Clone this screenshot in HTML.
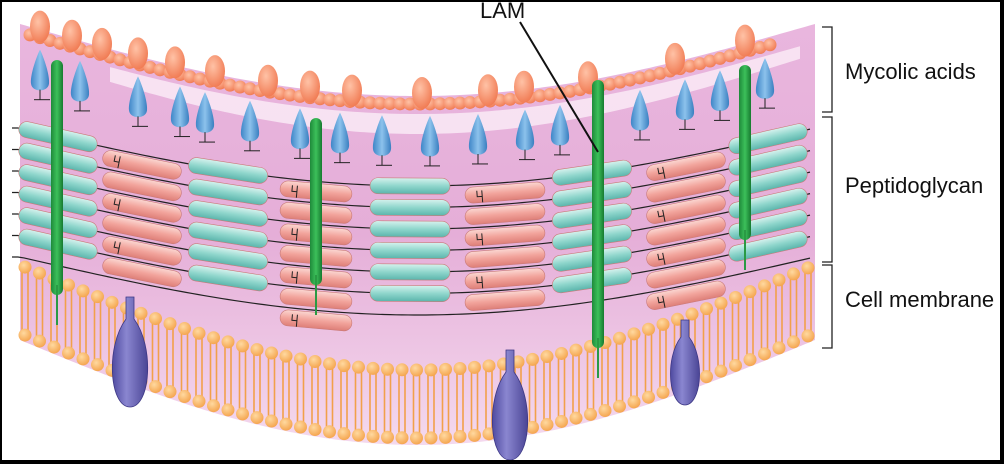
<!DOCTYPE html>
<html><head><meta charset="utf-8"><style>
html,body{margin:0;padding:0;background:#fff}
#w{position:relative;width:1004px;height:464px;overflow:hidden;box-sizing:border-box;border:2px solid #000;border-bottom-width:4px;border-right-width:4px;background:#fff}
svg{position:absolute;left:-2px;top:-2px}
.lbl{position:absolute;font-family:"Liberation Sans",sans-serif;font-size:22px;color:#111;white-space:nowrap}
</style></head><body><div id="w">
<svg id="s" width="1004" height="464" viewBox="0 0 1004 464">
<defs>
<linearGradient id="band" x1="0" y1="0" x2="0" y2="1">
<stop offset="0" stop-color="#e9b6de"/><stop offset="0.5" stop-color="#e5aed8"/><stop offset="1" stop-color="#f4d9ee"/>
</linearGradient>
<linearGradient id="teal" x1="0" y1="0" x2="0" y2="1"><stop offset="0" stop-color="#d6f2ee"/><stop offset="0.5" stop-color="#8fd6cc"/><stop offset="1" stop-color="#5bb5ac"/></linearGradient>
<linearGradient id="pink" x1="0" y1="0" x2="0" y2="1"><stop offset="0" stop-color="#fbd7d2"/><stop offset="0.5" stop-color="#f2a49c"/><stop offset="1" stop-color="#de7f78"/></linearGradient>
<linearGradient id="grn" x1="0" y1="0" x2="1" y2="0"><stop offset="0" stop-color="#1e8a3a"/><stop offset="0.5" stop-color="#3cc05a"/><stop offset="1" stop-color="#177a30"/></linearGradient>
<linearGradient id="pur" x1="0" y1="0" x2="1" y2="0"><stop offset="0" stop-color="#4f4aa0"/><stop offset="0.4" stop-color="#8a86d0"/><stop offset="1" stop-color="#4a4595"/></linearGradient>
<linearGradient id="blu" x1="0" y1="0" x2="1" y2="0"><stop offset="0" stop-color="#3f86c8"/><stop offset="0.5" stop-color="#8cc2ec"/><stop offset="1" stop-color="#3a7fc0"/></linearGradient>
<radialGradient id="org" cx="0.4" cy="0.35" r="0.7"><stop offset="0" stop-color="#ffc2a6"/><stop offset="1" stop-color="#f07850"/></radialGradient>
<radialGradient id="lip" cx="0.4" cy="0.35" r="0.7"><stop offset="0" stop-color="#ffd9a0"/><stop offset="1" stop-color="#f4a24a"/></radialGradient>
</defs>
<g id="g"></g>
</svg>
<div class="lbl" style="left:478px;top:-4px">LAM</div>
<div class="lbl" style="left:843px;top:57px">Mycolic acids</div>
<div class="lbl" style="left:843px;top:171px">Peptidoglycan</div>
<div class="lbl" style="left:843px;top:285px">Cell membrane</div>
</div>
<script>
(function(){
var g=document.getElementById('g'),h='';
function s(x){var v=Math.sin(Math.PI*(x-20)/795);return v<0?0:v;}
function ty(x){return 32+72*s(x);}
function mt(x){return 265+105*s(x);}
function pg(q){return 128+58*s(q);}
function ang(f,x){return Math.atan2(f(x+5)-f(x-5),10)*180/Math.PI;}
var p='M20,'+ty(20),x;
for(x=20;x<=815;x+=5)p+=' L'+x+','+(ty(x)-8);
for(x=815;x>=20;x-=5)p+=' L'+x+','+(mt(x)+75);
h+='<path d="'+p+'Z" fill="url(#band)"/>';
var p2='M110,'+(ty(110)+10);
for(x=110;x<=800;x+=5)p2+=' L'+x+','+(ty(x)+10);
for(x=800;x>=110;x-=5)p2+=' L'+x+','+(ty(x)+22+8*s(x));
h+='<path d="'+p2+'Z" fill="#fbeef8" opacity="0.8"/>';
for(x=25;x<=815;x+=14.5){var y1=mt(x),y2=y1+68;
 h+='<path d="M'+(x-3)+','+(y1+5)+' L'+(x-3)+','+(y2-5)+' M'+(x+3)+','+(y1+5)+' L'+(x+3)+','+(y2-5)+'" stroke="#f2a04a" stroke-width="1.6" fill="none"/>';
 h+='<circle cx="'+x+'" cy="'+y1+'" r="6.5" fill="url(#lip)"/><circle cx="'+x+'" cy="'+y2+'" r="6.5" fill="url(#lip)"/>';}
var cols=[[58,'teal'],[142,'pink'],[228,'teal'],[316,'pink'],[410,'teal'],[505,'pink'],[592,'teal'],[686,'pink'],[768,'teal']];
for(var r=0;r<7;r++){var lp='';for(x=12;x<=812;x+=6){var y=pg(x)+r*21.5;lp+=(x==12?'M':'L')+x+','+y+' ';}
 h+='<path d="'+lp+'" stroke="#222" stroke-width="1.2" fill="none"/>';}
cols.forEach(function(c,i){var cx=c[0];var n=(c[1]=='pink'&&i%4==3)?7:6;
 for(var r=0;r<n;r++){var off=c[1]=='pink'?10:0;var y=pg(cx)+r*21.5+off;var a=ang(pg,cx);
  var w=(c[1]=='pink'&&i==3)?72:80;
  h+='<rect x="'+(cx-w/2)+'" y="'+(y-8)+'" width="'+w+'" height="16" rx="8" fill="url(#'+c[1]+')" stroke="#c97a78" stroke-width="0.6" transform="rotate('+a+' '+cx+' '+y+')"/>';
  if(c[1]=='pink'&&r%2==0)h+='<path d="M'+(cx-w/2+12)+','+(y-4)+' l0,6 l5,0 m0,-6 l0,12" stroke="#222" stroke-width="1" fill="none" transform="rotate('+a+' '+cx+' '+y+')"/>';}
});
[40,80,138,180,205,250,300,340,382,430,478,525,560,640,685,720,765].forEach(function(bx){var y=ty(bx)+12;
 h+='<path d="M'+bx+','+y+' C'+(bx+4)+','+(y+8)+' '+(bx+10)+','+(y+26)+' '+(bx+9)+','+(y+34)+' C'+(bx+8)+','+(y+43)+' '+(bx-8)+','+(y+43)+' '+(bx-9)+','+(y+34)+' C'+(bx-10)+','+(y+26)+' '+(bx-4)+','+(y+8)+' '+bx+','+y+'Z" fill="url(#blu)"/>';
 h+='<line x1="'+bx+'" y1="'+(y+40)+'" x2="'+bx+'" y2="'+(y+50)+'" stroke="#222"/><line x1="'+(bx-6)+'" y1="'+(y+50)+'" x2="'+(bx+10)+'" y2="'+(y+50)+'" stroke="#222"/>';});
for(x=30;x<=770;x+=10){h+='<circle cx="'+x+'" cy="'+ty(x)+'" r="6.5" fill="url(#org)"/>';}
[40,72,102,138,175,215,268,310,352,422,488,524,588,675,745].forEach(function(bx){h+='<ellipse cx="'+bx+'" cy="'+(ty(bx)-11)+'" rx="10" ry="16" fill="url(#org)"/>';});
[[57,60,325],[316,118,315],[598,80,378],[745,65,270]].forEach(function(l){
 h+='<rect x="'+(l[0]-6)+'" y="'+l[1]+'" width="12" height="'+(l[2]-l[1]-30)+'" rx="6" fill="url(#grn)"/><line x1="'+l[0]+'" y1="'+(l[2]-40)+'" x2="'+l[0]+'" y2="'+l[2]+'" stroke="#2a9a44" stroke-width="2"/>';});
[[130,297,407],[510,350,460],[685,320,405]].forEach(function(b){var bx=b[0],t=b[1],bt=b[2],H=bt-t,R=H*0.17;
 h+='<path d="M'+(bx-4)+','+t+' L'+(bx+4)+','+t+' L'+(bx+4)+','+(t+H*0.2)+' C'+(bx+R+6)+','+(t+H*0.45)+' '+(bx+R+2)+','+bt+' '+bx+','+bt+' C'+(bx-R-2)+','+bt+' '+(bx-R-6)+','+(t+H*0.45)+' '+(bx-4)+','+(t+H*0.2)+'Z" fill="url(#pur)" stroke="#3d3885" stroke-width="0.8"/>';});
h+='<line x1="520" y1="22" x2="598" y2="152" stroke="#111" stroke-width="2"/>';
function br(a,b){h+='<path d="M822,'+a+' L832,'+a+' L832,'+b+' L822,'+b+'" stroke="#222" stroke-width="1.3" fill="none"/>';}
br(27,112);br(117,262);br(265,348);
g.innerHTML=h;
})();
</script>
</body></html>
